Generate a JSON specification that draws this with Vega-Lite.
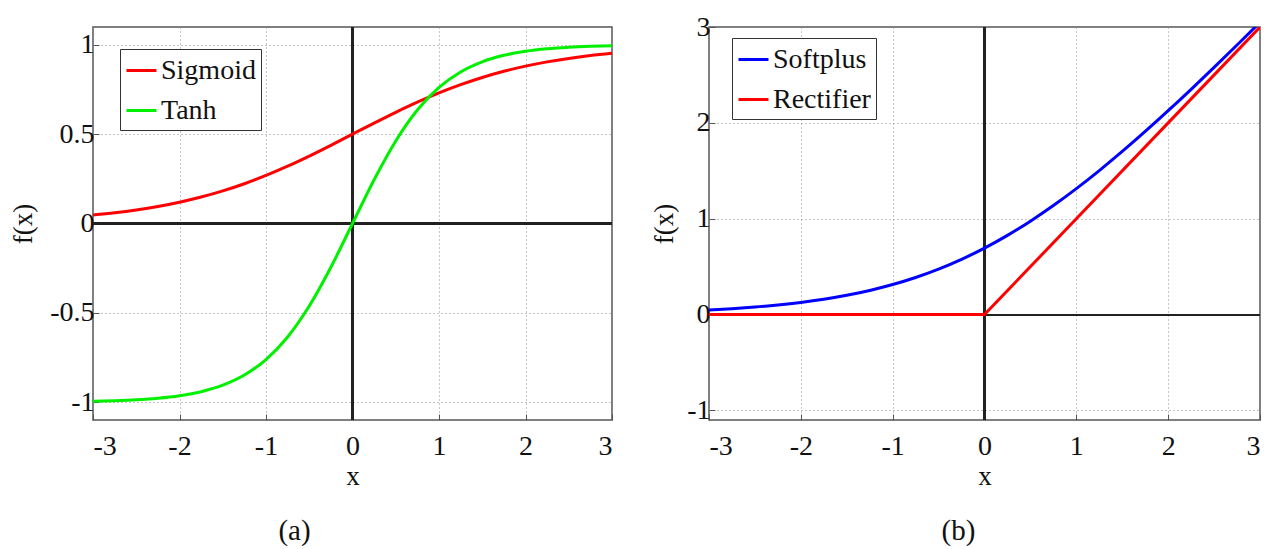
{
  "$schema": "https://vega.github.io/schema/vega-lite/v6.json",
  "padding": {"left": 8, "top": 12, "right": 0, "bottom": 0},
  "background": "white",
  "resolve": {"scale": {"color": "independent", "x": "independent", "y": "independent"}, "legend": {"color": "independent"}},
  "spacing": 35,
  "config": {
    "font": "Liberation Serif",
    "view": {"stroke": "#555", "strokeWidth": 1.5},
    "axis": {
      "labelFont": "Liberation Serif", "labelFontSize": 28, "labelColor": "#111",
      "titleFont": "Liberation Serif", "titleFontSize": 27, "titleFontWeight": "normal", "titleColor": "#111",
      "grid": true, "gridColor": "#8a8a8a", "gridDash": [1, 3], "gridWidth": 1,
      "domain": false, "tickColor": "#555", "tickSize": -6, "tickWidth": 1
    },
    "legend": {
      "orient": "none", "title": null, "strokeColor": "#333", "fillColor": "white", "padding": 5,
      "symbolType": "stroke", "symbolSize": 900, "symbolStrokeWidth": 3,
      "labelFont": "Liberation Serif", "labelFontSize": 28, "labelColor": "#111",
      "labelOffset": 3, "rowPadding": 9, "labelLimit": 300
    },
    "title": {"font": "Liberation Serif", "fontSize": 29, "fontWeight": "normal", "color": "#111", "orient": "bottom"}
  },
  "datasets": {
    "a": [
      {"x": -3, "y": 0.0474, "s": "Sigmoid"}, {"x": -2.75, "y": 0.0601, "s": "Sigmoid"}, {"x": -2.5, "y": 0.0759, "s": "Sigmoid"},
      {"x": -2.25, "y": 0.0953, "s": "Sigmoid"}, {"x": -2, "y": 0.1192, "s": "Sigmoid"}, {"x": -1.75, "y": 0.148, "s": "Sigmoid"},
      {"x": -1.5, "y": 0.1824, "s": "Sigmoid"}, {"x": -1.25, "y": 0.2227, "s": "Sigmoid"}, {"x": -1, "y": 0.2689, "s": "Sigmoid"},
      {"x": -0.75, "y": 0.3208, "s": "Sigmoid"}, {"x": -0.5, "y": 0.3775, "s": "Sigmoid"}, {"x": -0.25, "y": 0.4378, "s": "Sigmoid"},
      {"x": 0, "y": 0.5, "s": "Sigmoid"}, {"x": 0.25, "y": 0.5622, "s": "Sigmoid"}, {"x": 0.5, "y": 0.6225, "s": "Sigmoid"},
      {"x": 0.75, "y": 0.6792, "s": "Sigmoid"}, {"x": 1, "y": 0.7311, "s": "Sigmoid"}, {"x": 1.25, "y": 0.7773, "s": "Sigmoid"},
      {"x": 1.5, "y": 0.8176, "s": "Sigmoid"}, {"x": 1.75, "y": 0.852, "s": "Sigmoid"}, {"x": 2, "y": 0.8808, "s": "Sigmoid"},
      {"x": 2.25, "y": 0.9047, "s": "Sigmoid"}, {"x": 2.5, "y": 0.9241, "s": "Sigmoid"}, {"x": 2.75, "y": 0.9399, "s": "Sigmoid"},
      {"x": 3, "y": 0.9526, "s": "Sigmoid"},
      {"x": -3, "y": -0.9951, "s": "Tanh"}, {"x": -2.75, "y": -0.9918, "s": "Tanh"}, {"x": -2.5, "y": -0.9866, "s": "Tanh"},
      {"x": -2.25, "y": -0.978, "s": "Tanh"}, {"x": -2, "y": -0.964, "s": "Tanh"}, {"x": -1.75, "y": -0.9414, "s": "Tanh"},
      {"x": -1.5, "y": -0.9051, "s": "Tanh"}, {"x": -1.25, "y": -0.8483, "s": "Tanh"}, {"x": -1, "y": -0.7616, "s": "Tanh"},
      {"x": -0.75, "y": -0.6351, "s": "Tanh"}, {"x": -0.5, "y": -0.4621, "s": "Tanh"}, {"x": -0.25, "y": -0.2449, "s": "Tanh"},
      {"x": 0, "y": 0, "s": "Tanh"}, {"x": 0.25, "y": 0.2449, "s": "Tanh"}, {"x": 0.5, "y": 0.4621, "s": "Tanh"},
      {"x": 0.75, "y": 0.6351, "s": "Tanh"}, {"x": 1, "y": 0.7616, "s": "Tanh"}, {"x": 1.25, "y": 0.8483, "s": "Tanh"},
      {"x": 1.5, "y": 0.9051, "s": "Tanh"}, {"x": 1.75, "y": 0.9414, "s": "Tanh"}, {"x": 2, "y": 0.964, "s": "Tanh"},
      {"x": 2.25, "y": 0.978, "s": "Tanh"}, {"x": 2.5, "y": 0.9866, "s": "Tanh"}, {"x": 2.75, "y": 0.9918, "s": "Tanh"},
      {"x": 3, "y": 0.9951, "s": "Tanh"}
    ],
    "b": [
      {"x": -3, "y": 0.0486, "s": "Softplus"}, {"x": -2.75, "y": 0.0619, "s": "Softplus"}, {"x": -2.5, "y": 0.0789, "s": "Softplus"},
      {"x": -2.25, "y": 0.1002, "s": "Softplus"}, {"x": -2, "y": 0.1269, "s": "Softplus"}, {"x": -1.75, "y": 0.1602, "s": "Softplus"},
      {"x": -1.5, "y": 0.2014, "s": "Softplus"}, {"x": -1.25, "y": 0.2519, "s": "Softplus"}, {"x": -1, "y": 0.3133, "s": "Softplus"},
      {"x": -0.75, "y": 0.3869, "s": "Softplus"}, {"x": -0.5, "y": 0.4741, "s": "Softplus"}, {"x": -0.25, "y": 0.576, "s": "Softplus"},
      {"x": 0, "y": 0.6931, "s": "Softplus"}, {"x": 0.25, "y": 0.826, "s": "Softplus"}, {"x": 0.5, "y": 0.9741, "s": "Softplus"},
      {"x": 0.75, "y": 1.1369, "s": "Softplus"}, {"x": 1, "y": 1.3133, "s": "Softplus"}, {"x": 1.25, "y": 1.5019, "s": "Softplus"},
      {"x": 1.5, "y": 1.7014, "s": "Softplus"}, {"x": 1.75, "y": 1.9102, "s": "Softplus"}, {"x": 2, "y": 2.1269, "s": "Softplus"},
      {"x": 2.25, "y": 2.3502, "s": "Softplus"}, {"x": 2.5, "y": 2.5789, "s": "Softplus"}, {"x": 2.75, "y": 2.8119, "s": "Softplus"},
      {"x": 3, "y": 3.0486, "s": "Softplus"},
      {"x": -3, "y": 0, "s": "Rectifier"}, {"x": -2, "y": 0, "s": "Rectifier"}, {"x": -1, "y": 0, "s": "Rectifier"},
      {"x": 0, "y": 0, "s": "Rectifier"}, {"x": 1, "y": 1, "s": "Rectifier"}, {"x": 2, "y": 2, "s": "Rectifier"},
      {"x": 3, "y": 3, "s": "Rectifier"}
    ]
  },
  "hconcat": [
    {
      "width": 519,
      "height": 393,
      "title": {"text": "(a)", "offset": 28, "dx": -58},
      "data": {"name": "a"},
      "layer": [
        {"mark": {"type": "rule", "color": "#222", "strokeWidth": 1.3}, "encoding": {"x": {"datum": 0, "type": "quantitative"}}},
        {"mark": {"type": "rule", "color": "#222", "strokeWidth": 1.3}, "encoding": {"y": {"datum": 0, "type": "quantitative"}}},
        {
          "mark": {"type": "line", "strokeWidth": 3, "interpolate": "monotone", "clip": true},
          "encoding": {
            "x": {"field": "x", "type": "quantitative", "scale": {"domain": [-3, 3], "nice": false},
                  "axis": {"title": "x", "values": [-3, -2, -1, 0, 1, 2, 3], "labelExpr": "'' + datum.value", "labelPadding": 18, "titlePadding": 3}},
            "y": {"field": "y", "type": "quantitative", "scale": {"domain": [-1.1, 1.1], "nice": false, "zero": false},
                  "axis": {"title": "f(x)", "values": [-1, -0.5, 0, 0.5, 1], "labelExpr": "'' + datum.value", "labelPadding": 5, "titlePadding": 12}},
            "color": {"field": "s", "type": "nominal", "sort": ["Sigmoid", "Tanh"],
                      "scale": {"domain": ["Sigmoid", "Tanh"], "range": ["#ff0000", "#00f000"]},
                      "legend": {"legendX": 27, "legendY": 22}}
          }
        }
      ]
    },
    {
      "width": 551,
      "height": 393,
      "title": {"text": "(b)", "offset": 28, "dx": -26},
      "data": {"name": "b"},
      "layer": [
        {"mark": {"type": "rule", "color": "#222", "strokeWidth": 1.3}, "encoding": {"x": {"datum": 0, "type": "quantitative"}}},
        {"mark": {"type": "rule", "color": "#222", "strokeWidth": 1.3}, "encoding": {"y": {"datum": 0, "type": "quantitative"}}},
        {
          "transform": [{"filter": "datum.s == 'Softplus'"}],
          "mark": {"type": "line", "strokeWidth": 3, "interpolate": "monotone", "clip": true},
          "encoding": {
            "x": {"field": "x", "type": "quantitative", "scale": {"domain": [-3, 3], "nice": false},
                  "axis": {"title": "x", "values": [-3, -2, -1, 0, 1, 2, 3], "labelExpr": "'' + datum.value", "labelPadding": 18, "titlePadding": 3}},
            "y": {"field": "y", "type": "quantitative", "scale": {"domain": [-1.1, 3], "nice": false, "zero": false},
                  "axis": {"title": "f(x)", "values": [-1, 0, 1, 2, 3], "labelExpr": "'' + datum.value", "labelPadding": 5, "titlePadding": 8}},
            "color": {"field": "s", "type": "nominal",
                      "scale": {"domain": ["Softplus", "Rectifier"], "range": ["#0000ff", "#ff0000"]},
                      "legend": {"legendX": 23, "legendY": 11}}
          }
        },
        {
          "transform": [{"filter": "datum.s == 'Rectifier'"}],
          "mark": {"type": "line", "strokeWidth": 3, "interpolate": "linear", "clip": true},
          "encoding": {
            "x": {"field": "x", "type": "quantitative"},
            "y": {"field": "y", "type": "quantitative"},
            "color": {"field": "s", "type": "nominal"}
          }
        }
      ]
    }
  ]
}
